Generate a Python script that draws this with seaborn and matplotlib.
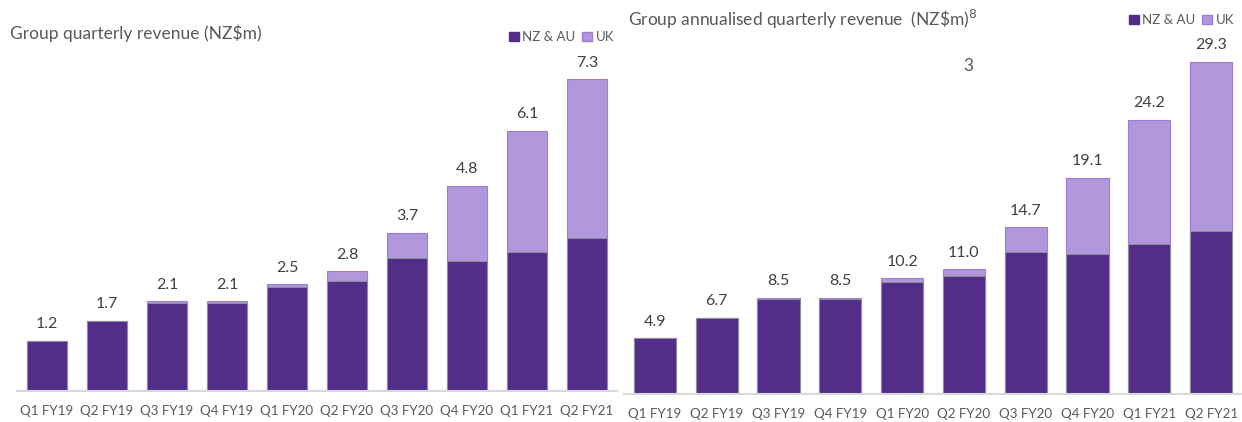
import numpy as np
import pandas as pd
import matplotlib
matplotlib.use("Agg")
import matplotlib.pyplot as plt
import seaborn as sns
from matplotlib.patches import Patch

quarters = ["Q1 FY19", "Q2 FY19", "Q3 FY19", "Q4 FY19", "Q1 FY20",
            "Q2 FY20", "Q3 FY20", "Q4 FY20", "Q1 FY21", "Q2 FY21"]

# Quarterly revenue (NZ$m)
q_nzau = [1.17, 1.64, 2.07, 2.07, 2.43, 2.58, 3.11, 3.04, 3.26, 3.58]
q_total = [1.17, 1.64, 2.1, 2.1, 2.5, 2.8, 3.7, 4.8, 6.1, 7.3]
q_labels = ["1.2", "1.7", "2.1", "2.1", "2.5", "2.8", "3.7", "4.8", "6.1", "7.3"]

# Annualised quarterly revenue (NZ$m)
a_nzau = [4.9, 6.7, 8.4, 8.4, 9.86, 10.39, 12.53, 12.33, 13.21, 14.36]
a_total = [4.9, 6.7, 8.5, 8.5, 10.2, 11.0, 14.7, 19.1, 24.2, 29.3]
a_labels = ["4.9", "6.7", "8.5", "8.5", "10.2", "11.0", "14.7", "19.1", "24.2", "29.3"]

series_names = ["NZ & AU", "UK"]

NZ_COL = "#522D8A"
UK_COL = "#B197DB"
TXT = "#595959"

sns.set_theme(style="white")
plt.rcParams["font.family"] = ["Lato", "DejaVu Sans"]

W, H = 1242, 422
fig = plt.figure(figsize=(W / 100, H / 100), dpi=100)


def panel(rect, nz, total, labels, ymax, width, title, title_xy, legend_xy, fontsize=9.6):
    ax = fig.add_axes(rect)
    df = pd.DataFrame({"q": quarters, "nz": nz, "total": total})
    sns.barplot(data=df, x="q", y="total", color=UK_COL, width=width,
                saturation=1, edgecolor="#9C7CD4", linewidth=0.8, ax=ax)
    sns.barplot(data=df, x="q", y="nz", color=NZ_COL, width=width,
                saturation=1, edgecolor="#8E8E9A", linewidth=0.8, ax=ax)
    ax.set_xlim(-0.5, 9.5)
    ax.set_ylim(0, ymax)
    ax.set_xlabel("")
    ax.set_ylabel("")
    ax.set_yticks([])
    for s in ["top", "right", "left"]:
        ax.spines[s].set_visible(False)
    ax.spines["bottom"].set_color("#D9D9D9")
    ax.spines["bottom"].set_linewidth(1.5)
    ax.tick_params(axis="x", length=0, pad=10, labelsize=fontsize, labelcolor=TXT)
    ax.patch.set_alpha(0)
    for i, (t, lab) in enumerate(zip(total, labels)):
        ax.annotate(lab, (i, t), xytext=(0, 7), textcoords="offset points",
                    ha="center", va="bottom", fontsize=11.5, color="#404040")
    fig.text(title_xy[0] / W, 1 - title_xy[1] / H, title, fontsize=12.5,
             color=TXT, ha="left", va="center")
    handles = [Patch(facecolor=NZ_COL, edgecolor=NZ_COL),
               Patch(facecolor=UK_COL, edgecolor="#9C7CD4")]
    fig.legend(handles, series_names, loc="center right",
               bbox_to_anchor=(legend_xy[0] / W, 1 - legend_xy[1] / H),
               ncol=2, frameon=False, fontsize=9.5, handlelength=0.7,
               handleheight=0.7, handletextpad=0.3, columnspacing=0.5,
               labelcolor=TXT, borderaxespad=0, borderpad=0)
    return ax


# left panel: x 17..617 px, baseline y=391, 42.7 px per unit
lb = (H - 391) / H
ltop = 60
panel([17 / W, lb, 600 / W, (391 - ltop) / H], q_nzau, q_total, q_labels,
      (391 - ltop) / 42.7, 0.67, "Group quarterly revenue (NZ\\$m)",
      (10, 33), (614, 37))

# right panel: x 624..1242 px, baseline y=394, 11.33 px per unit
rb = (H - 394) / H
rtop = 40
panel([624 / W, rb, 618 / W, (394 - rtop) / H], a_nzau, a_total, a_labels,
      (394 - rtop) / 11.33, 0.68, "Group annualised quarterly revenue  (NZ\\$m)$^{8}$",
      (628, 19), (1234, 20))

fig.text(968 / W, 1 - 66 / H, "3", fontsize=12.5, color=TXT, ha="center", va="center")

fig.savefig("out.png", dpi=100, facecolor="white")
